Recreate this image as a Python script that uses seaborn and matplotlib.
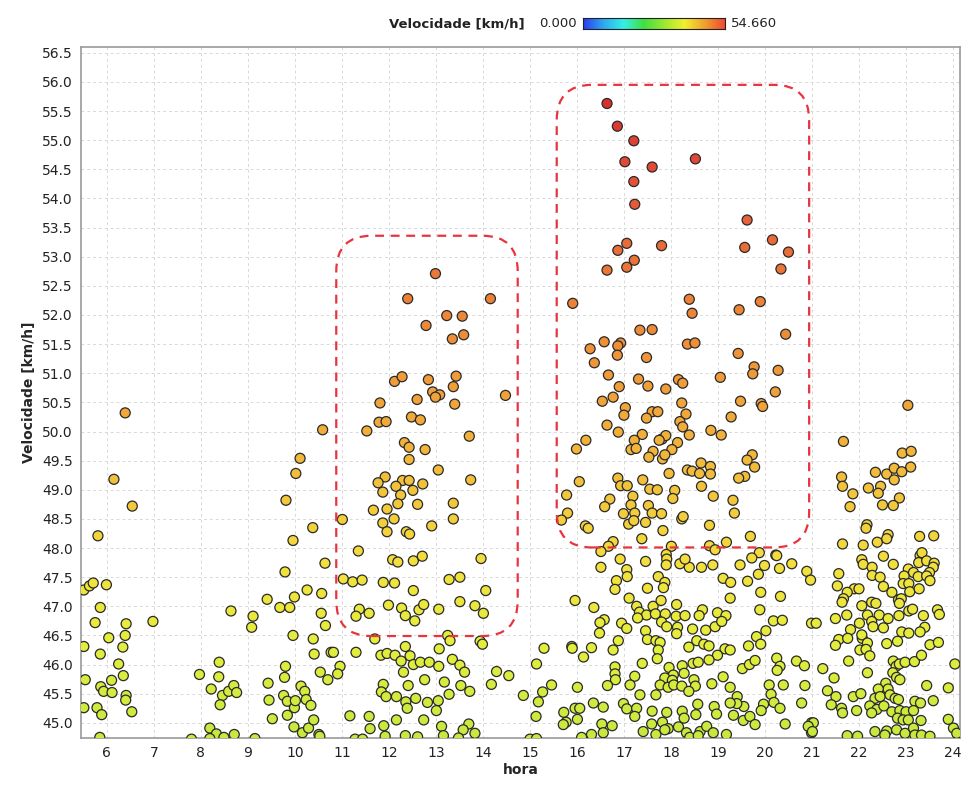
import matplotlib
matplotlib.use("Agg")
import matplotlib.pyplot as plt
import numpy as np
import pandas as pd
import seaborn as sns
from matplotlib.colors import LinearSegmentedColormap
from matplotlib.patches import FancyBboxPatch

# (hora, velocidade), por faixa de horario
madrugada = [
    (6.39, 50.32), (6.15, 49.18), (6.54, 48.72), (5.81, 48.21), (5.51, 47.28), (5.63, 47.35),
    (5.71, 47.40), (5.99, 47.37), (5.86, 46.98), (5.75, 46.72), (5.51, 46.31), (6.04, 46.46),
    (5.86, 46.18), (6.41, 46.70), (6.39, 46.50), (6.34, 46.30), (6.25, 46.01), (6.35, 45.81),
    (5.54, 45.74), (6.10, 45.73), (5.87, 45.62), (5.93, 45.54), (6.11, 45.52), (6.41, 45.47),
    (6.40, 45.39), (5.51, 45.26), (5.79, 45.26), (5.89, 45.14), (6.53, 45.19), (5.85, 44.75),
    (6.98, 46.74), (7.97, 45.83), (8.22, 45.58), (8.39, 46.04), (8.38, 45.79), (8.46, 45.47),
    (8.41, 45.31), (8.59, 45.54), (8.70, 45.64), (8.76, 45.52), (8.64, 46.92), (9.11, 46.83),
    (9.08, 46.64), (8.19, 44.91), (8.33, 44.81), (8.71, 44.80), (8.49, 44.75), (7.80, 44.72),
    (9.15, 44.73), (8.19, 44.73),
]

manha = [
    (9.43, 45.68), (9.45, 45.39), (9.52, 45.07), (9.41, 47.12), (9.68, 46.98), (9.89, 46.98),
    (9.79, 47.59), (9.99, 47.16), (9.81, 48.82), (10.02, 49.28), (10.11, 49.54), (9.96, 48.13),
    (10.38, 48.35), (10.59, 50.03), (9.96, 46.50), (9.80, 45.97), (9.78, 45.78), (9.76, 45.47),
    (9.84, 45.37), (9.84, 45.13), (9.99, 45.26), (10.01, 45.38), (9.98, 44.93), (10.13, 45.63),
    (10.21, 45.54), (10.24, 45.40), (10.34, 45.30), (10.16, 44.83), (10.29, 44.91), (10.40, 45.05),
    (10.51, 44.80), (10.39, 46.44), (10.41, 46.18), (10.26, 47.28), (10.57, 47.22), (10.56, 46.88),
    (10.65, 46.67), (10.64, 47.74), (10.54, 45.87), (10.70, 45.74), (10.77, 46.21), (10.53, 44.77),
]

almoco = [
    (12.99, 52.71), (12.40, 52.28), (14.16, 52.28), (13.23, 51.99), (13.56, 51.98), (12.79, 51.82),
    (13.35, 51.59), (13.59, 51.66), (12.12, 50.86), (12.28, 50.94), (12.84, 50.89), (13.43, 50.95),
    (13.37, 50.77), (12.93, 50.68), (13.08, 50.63), (12.99, 50.59), (14.48, 50.62), (12.60, 50.55),
    (11.81, 50.49), (13.40, 50.47), (12.48, 50.25), (12.67, 50.20), (11.79, 50.16), (11.94, 50.17),
    (11.53, 50.01), (13.71, 49.92), (12.33, 49.81), (12.43, 49.73), (12.77, 49.69), (12.43, 49.52),
    (13.05, 49.34), (13.74, 49.17), (11.92, 49.22), (11.77, 49.12), (12.29, 49.16), (12.43, 49.16),
    (12.72, 49.10), (12.15, 49.06), (12.51, 48.99), (11.87, 48.96), (12.25, 48.91), (11.67, 48.65),
    (11.96, 48.67), (12.19, 48.76), (12.61, 48.75), (13.37, 48.77), (11.01, 48.49), (12.11, 48.50),
    (11.87, 48.43), (11.96, 48.28), (12.37, 48.28), (12.44, 48.24), (12.91, 48.38), (13.37, 48.50),
    (11.35, 47.95), (12.08, 47.80), (12.19, 47.76), (12.52, 47.78), (12.71, 47.86), (13.96, 47.82),
    (11.03, 47.47), (11.23, 47.42), (11.43, 47.45), (11.88, 47.41), (12.12, 47.40), (13.28, 47.46),
    (13.51, 47.50), (12.52, 47.27), (14.06, 47.27), (11.99, 47.02), (11.37, 46.95), (11.30, 46.83),
    (11.58, 46.88), (12.27, 46.97), (12.35, 46.84), (12.55, 46.75), (12.64, 46.94), (12.74, 47.03),
    (13.06, 46.95), (13.51, 47.08), (13.83, 47.01), (14.01, 46.88), (11.70, 46.44), (13.25, 46.50),
    (13.30, 46.41), (13.94, 46.40), (13.99, 46.35), (10.82, 46.21), (11.30, 46.21), (11.83, 46.16),
    (11.96, 46.19), (12.13, 46.16), (12.26, 46.06), (12.35, 46.31), (12.45, 46.15), (12.52, 46.00),
    (12.67, 46.04), (12.86, 46.04), (13.07, 46.27), (13.06, 45.97), (13.35, 46.09), (13.51, 45.99),
    (13.61, 45.87), (10.96, 45.97), (10.91, 45.84), (12.31, 45.87), (12.76, 45.74), (11.88, 45.66),
    (12.41, 45.64), (13.18, 45.70), (13.53, 45.64), (13.72, 45.54), (14.29, 45.88), (14.55, 45.81),
    (14.18, 45.66), (11.84, 45.53), (11.94, 45.45), (12.16, 45.45), (12.36, 45.36), (12.57, 45.42),
    (12.39, 45.25), (12.82, 45.35), (13.05, 45.38), (13.28, 45.49), (13.01, 45.21), (11.17, 45.12),
    (11.58, 45.11), (11.60, 44.90), (11.89, 44.95), (12.16, 45.05), (12.74, 45.05), (13.12, 44.94),
    (13.70, 44.98), (13.58, 44.88), (13.83, 44.82), (13.48, 44.74), (11.92, 44.77), (12.35, 44.78),
    (12.61, 44.76), (13.16, 44.78), (11.28, 44.72), (11.44, 44.72), (14.86, 45.47), (15.18, 45.36),
    (15.27, 45.53), (15.14, 46.01), (15.30, 46.28), (15.13, 45.11), (15.00, 44.72), (15.14, 44.73),
]

tarde = [
    # acima de 51 km/h
    (16.64, 55.63), (16.86, 55.24), (17.21, 54.99), (17.02, 54.63), (17.60, 54.54), (18.52, 54.68),
    (17.21, 54.29), (17.23, 53.90), (19.62, 53.63), (17.06, 53.23), (16.87, 53.11), (17.80, 53.19),
    (19.57, 53.16), (20.16, 53.29), (20.50, 53.08), (17.22, 52.94), (17.06, 52.82), (16.64, 52.77),
    (20.34, 52.79), (15.91, 52.20), (18.39, 52.27), (18.45, 52.03), (19.45, 52.09), (19.90, 52.23),
    (17.34, 51.74), (17.60, 51.75), (20.44, 51.67), (16.58, 51.54), (16.93, 51.52), (16.87, 51.47),
    (16.28, 51.42), (18.35, 51.50), (18.51, 51.52), (16.86, 51.31), (16.37, 51.18), (17.48, 51.27),
    (19.43, 51.34), (19.77, 51.11), (19.74, 50.99), (20.28, 51.05), (16.67, 50.97), (17.31, 50.90),
    (18.16, 50.89), (19.05, 50.93),
    # 48 a 51 km/h
    (18.25, 50.83), (16.90, 50.77), (17.51, 50.78), (17.89, 50.73), (16.77, 50.59), (16.54, 50.52),
    (20.22, 50.68), (18.23, 50.49), (19.48, 50.52), (19.92, 50.48), (19.95, 50.43), (17.03, 50.41),
    (17.00, 50.28), (17.60, 50.34), (17.72, 50.34), (17.48, 50.23), (18.32, 50.30), (19.28, 50.25),
    (18.19, 50.17), (18.25, 50.08), (16.64, 50.11), (16.88, 49.99), (17.39, 49.95), (17.22, 49.85),
    (17.81, 49.87), (17.89, 49.93), (17.75, 49.85), (18.14, 49.81), (18.39, 49.94), (18.85, 50.02),
    (19.07, 49.94), (16.19, 49.85), (15.99, 49.70), (17.15, 49.69), (17.26, 49.71), (17.62, 49.66),
    (18.02, 49.69), (17.53, 49.56), (17.82, 49.53), (17.87, 49.60), (19.73, 49.60), (19.62, 49.51),
    (19.78, 49.39), (18.64, 49.46), (18.84, 49.40), (18.35, 49.34), (18.45, 49.32), (18.61, 49.28),
    (18.84, 49.27), (17.96, 49.28), (19.57, 49.23), (19.44, 49.20), (16.05, 49.14), (16.87, 49.20),
    (16.93, 49.07), (17.07, 49.07), (17.40, 49.17), (17.55, 49.01), (17.71, 49.00), (18.65, 49.06),
    (18.08, 48.99), (18.04, 48.85), (15.78, 48.91), (16.70, 48.84), (16.59, 48.71), (17.19, 48.89),
    (17.15, 48.74), (17.52, 48.73), (18.90, 48.89), (19.32, 48.82), (19.35, 48.60), (15.80, 48.60),
    (15.67, 48.48), (16.99, 48.59), (17.23, 48.60), (17.60, 48.60), (17.80, 48.59), (17.10, 48.41),
    (17.21, 48.47), (17.46, 48.44), (18.23, 48.50), (18.26, 48.54), (18.82, 48.39), (16.18, 48.38),
    (16.24, 48.34), (17.83, 48.30), (17.38, 48.16), (16.77, 48.11), (16.67, 48.03), (19.69, 48.20),
    (19.18, 48.10), (18.01, 48.03), (18.82, 48.04), (18.94, 47.97), (16.51, 47.94), (19.88, 47.92),
    (20.23, 47.88), (17.90, 47.89), (17.91, 47.81),
    # abaixo de 48 km/h
    (17.46, 47.77), (16.92, 47.81), (17.90, 47.71), (18.19, 47.73), (18.39, 47.67), (18.65, 47.67),
    (18.89, 47.71), (18.30, 47.81), (19.47, 47.71), (19.72, 47.83), (19.99, 47.70), (20.25, 47.87),
    (20.57, 47.73), (20.31, 47.65), (20.89, 47.60), (20.97, 47.45), (16.51, 47.67), (17.06, 47.63),
    (17.07, 47.51), (16.84, 47.44), (16.81, 47.29), (17.73, 47.51), (17.87, 47.41), (17.84, 47.32),
    (17.50, 47.31), (19.11, 47.48), (19.27, 47.41), (19.63, 47.43), (19.86, 47.55), (19.91, 47.24),
    (20.33, 47.17), (19.26, 47.14), (15.96, 47.10), (17.11, 47.14), (16.36, 46.98), (17.27, 47.00),
    (17.33, 46.90), (17.62, 47.00), (17.79, 47.10), (18.12, 47.03), (17.48, 46.85), (17.67, 46.87),
    (17.88, 46.87), (18.11, 46.83), (18.30, 46.84), (17.29, 46.80), (19.89, 46.94), (18.67, 46.94),
    (18.60, 46.84), (18.99, 46.89), (19.17, 46.84), (16.58, 46.77), (16.49, 46.72), (16.95, 46.71),
    (17.06, 46.62), (17.80, 46.73), (17.91, 46.65), (18.14, 46.64), (18.12, 46.53), (18.46, 46.61),
    (18.74, 46.59), (18.94, 46.65), (19.08, 46.74), (20.18, 46.75), (20.37, 46.76), (20.99, 46.71),
    (20.02, 46.58), (16.48, 46.54), (17.46, 46.58), (19.82, 46.48), (19.91, 46.35), (19.65, 46.32),
    (16.88, 46.41), (17.50, 46.43), (17.68, 46.41), (17.77, 46.38), (18.55, 46.41), (18.70, 46.35),
    (18.81, 46.32), (18.38, 46.30), (19.15, 46.27), (19.26, 46.25), (15.89, 46.31), (15.90, 46.28),
    (16.31, 46.29), (16.77, 46.25), (17.73, 46.25), (16.14, 46.13), (17.71, 46.10), (18.99, 46.16),
    (18.81, 46.08), (18.47, 46.02), (18.58, 46.04), (18.24, 45.98), (17.96, 45.95), (17.39, 46.02),
    (16.81, 45.96), (16.81, 45.84), (16.82, 45.74), (19.52, 45.93), (19.67, 46.00), (19.79, 46.07),
    (20.25, 46.11), (20.32, 45.97), (20.26, 45.90), (20.67, 46.06), (20.84, 45.98), (17.23, 45.80),
    (17.13, 45.65), (18.05, 45.82), (18.28, 45.85), (18.49, 45.74), (17.87, 45.77), (18.03, 45.73),
    (19.11, 45.79), (19.26, 45.61), (17.77, 45.65), (17.94, 45.61), (18.06, 45.65), (18.23, 45.63),
    (18.52, 45.63), (18.87, 45.67), (18.38, 45.54), (16.65, 45.64), (16.01, 45.61), (15.46, 45.65),
    (17.34, 45.48), (17.68, 45.48), (20.09, 45.65), (20.39, 45.65), (20.85, 45.64), (20.13, 45.49),
    (19.41, 45.45), (19.55, 45.28), (19.40, 45.33), (19.26, 45.34), (19.97, 45.32), (20.19, 45.35),
    (20.32, 45.25), (19.92, 45.21), (20.78, 45.34), (16.35, 45.34), (16.56, 45.27), (16.99, 45.33),
    (17.06, 45.24), (17.27, 45.25), (17.60, 45.20), (17.91, 45.18), (18.24, 45.20), (18.57, 45.32),
    (18.92, 45.28), (18.97, 45.15), (18.53, 45.14), (18.28, 45.08), (15.72, 45.18), (15.96, 45.25),
    (16.06, 45.25), (16.01, 45.06), (15.77, 45.01), (15.71, 44.97), (16.75, 44.95), (16.53, 44.98),
    (17.23, 45.11), (17.59, 44.98), (17.82, 45.01), (17.94, 44.90), (18.16, 44.93), (18.33, 44.83),
    (18.62, 44.85), (18.76, 44.94), (18.90, 44.83), (19.33, 45.13), (19.54, 45.04), (19.68, 45.11),
    (19.79, 44.97), (20.43, 44.98), (20.99, 45.00), (20.99, 44.83), (17.41, 44.85), (17.68, 44.80),
    (17.87, 44.88), (19.18, 44.80), (16.56, 44.83), (16.31, 44.80), (16.10, 44.75), (18.40, 44.75),
    (18.58, 44.78),
]

noite = [
    (23.04, 50.45), (21.67, 49.83), (22.92, 49.63), (23.11, 49.66), (23.10, 49.39), (21.63, 49.22),
    (21.65, 49.06), (22.35, 49.30), (22.59, 49.27), (22.75, 49.37), (22.91, 49.31), (22.75, 49.17),
    (22.20, 49.03), (22.46, 49.06), (22.41, 48.94), (21.87, 48.93), (22.86, 48.86), (21.81, 48.71),
    (22.50, 48.74), (22.73, 48.73), (22.17, 48.40), (22.15, 48.34), (23.29, 48.20), (23.59, 48.21),
    (21.65, 48.07), (22.09, 48.05), (22.39, 48.10), (22.62, 48.23), (22.59, 48.16), (22.52, 47.86),
    (23.30, 47.87), (23.34, 47.92), (23.27, 47.75), (23.44, 47.78), (23.60, 47.74), (23.58, 47.67),
    (22.06, 47.80), (22.09, 47.72), (22.28, 47.67), (22.73, 47.72), (23.05, 47.64), (23.16, 47.58),
    (23.50, 47.58), (21.57, 47.56), (22.28, 47.53), (22.45, 47.50), (22.96, 47.52), (23.26, 47.51),
    (23.44, 47.52), (23.51, 47.44), (21.54, 47.35), (21.90, 47.30), (22.00, 47.30), (22.52, 47.34),
    (22.70, 47.24), (22.94, 47.39), (23.06, 47.39), (23.08, 47.25), (23.28, 47.30), (21.75, 47.24),
    (21.67, 47.13), (21.64, 47.07), (22.84, 47.11), (22.90, 47.13), (22.06, 47.01), (22.27, 47.07),
    (22.36, 47.05), (22.86, 47.05), (23.06, 46.92), (23.14, 46.95), (23.67, 46.94), (23.71, 46.86),
    (21.50, 46.79), (21.74, 46.85), (22.18, 46.85), (22.43, 46.85), (22.62, 46.79), (22.85, 46.84),
    (21.09, 46.71), (23.37, 46.84), (22.01, 46.71), (22.27, 46.74), (22.30, 46.65), (23.40, 46.64),
    (22.52, 46.63), (22.91, 46.56), (23.06, 46.54), (23.30, 46.56), (21.82, 46.60), (21.57, 46.43),
    (21.50, 46.33), (21.76, 46.45), (22.07, 46.45), (22.06, 46.51), (22.18, 46.37), (22.59, 46.36),
    (22.82, 46.40), (23.51, 46.34), (23.69, 46.38), (22.02, 46.25), (22.15, 46.26), (22.23, 46.15),
    (21.78, 46.06), (22.18, 45.86), (22.73, 46.06), (22.79, 45.97), (22.86, 46.01), (22.98, 46.04),
    (23.18, 46.05), (23.33, 46.16), (24.04, 46.01), (21.23, 45.93), (21.47, 45.77), (22.72, 45.86),
    (22.80, 45.78), (22.87, 45.74), (22.57, 45.68), (22.62, 45.58), (22.41, 45.58), (23.44, 45.64),
    (23.90, 45.60), (21.33, 45.55), (21.51, 45.45), (21.88, 45.45), (22.04, 45.50), (22.34, 45.42),
    (22.45, 45.45), (22.66, 45.48), (22.77, 45.42), (22.84, 45.40), (23.19, 45.37), (23.31, 45.34),
    (23.58, 45.38), (21.41, 45.31), (21.63, 45.25), (21.95, 45.21), (22.23, 45.29), (22.38, 45.23),
    (22.53, 45.29), (22.70, 45.19), (22.87, 45.21), (23.00, 45.19), (23.16, 45.21), (22.27, 45.17),
    (21.65, 45.17), (22.82, 45.08), (22.94, 45.05), (23.05, 45.05), (23.32, 45.04), (23.90, 45.06),
    (24.01, 44.91), (21.03, 45.00), (20.92, 44.94), (21.01, 44.85), (21.75, 44.78), (21.97, 44.77),
    (22.34, 44.85), (22.59, 44.86), (22.55, 44.79), (22.80, 44.88), (22.98, 44.82), (23.16, 44.91),
    (23.19, 44.79), (23.33, 44.79), (23.51, 44.77), (24.08, 44.82),
]

# areas destacadas (hora inicial, hora final, vel. minima, vel. maxima)
destaque_almoco = (10.88, 14.74, 46.49, 53.36)
destaque_tarde = (15.57, 20.94, 48.01, 55.95)

df = pd.DataFrame(madrugada + manha + almoco + tarde + noite, columns=["hora", "velocidade"])

sns.set_style("white")
plt.rcParams["font.family"] = ["DejaVu Sans"]

fig = plt.figure(figsize=(9.61, 7.87), dpi=100)
ax = fig.add_axes([0.0843, 0.0623, 0.9147, 0.878])

cores_pontos = LinearSegmentedColormap.from_list("pontos", [
    (0.00, "#c6e83e"), (0.15, "#e4ee3c"), (0.27, "#f2e03c"), (0.42, "#f2bc3a"),
    (0.57, "#f09a38"), (0.72, "#ec7a36"), (0.86, "#e4553a"), (1.00, "#d8302c")])

sns.scatterplot(data=df, x="hora", y="velocidade", hue="velocidade", palette=cores_pontos,
                hue_norm=(44.7, 55.7), s=52, edgecolor="#2a2a2a", linewidth=0.9,
                legend=False, ax=ax, zorder=3)

# caixas tracejadas arredondadas
for h0, h1, v0, v1 in [destaque_almoco, destaque_tarde]:
    caixa = FancyBboxPatch((h0, v0), h1 - h0, v1 - v0,
                           boxstyle="round,pad=0,rounding_size=0.75", mutation_aspect=0.81,
                           fill=False, edgecolor="#e8343c", linewidth=1.6,
                           linestyle=(0, (4, 3)), zorder=4, clip_on=False)
    ax.add_patch(caixa)

ax.set_xlim(5.45, 24.15)
ax.set_ylim(44.74, 56.6)
ax.set_xticks(range(6, 25))
ax.set_yticks(np.arange(45.0, 56.51, 0.5))
ax.set_yticklabels([f"{v:.1f}" for v in np.arange(45.0, 56.51, 0.5)])
ax.grid(True, color="#d8d8d8", linestyle=(0, (3, 3)), linewidth=0.7)
ax.set_axisbelow(True)
for lado in ax.spines.values():
    lado.set_color("#9a9a9a")
    lado.set_linewidth(1.2)
ax.tick_params(axis="both", direction="out", length=3, width=0.8, color="#888888",
               labelsize=10, labelcolor="#222222", pad=3)
ax.set_xlabel("hora", fontsize=10, fontweight="bold", labelpad=2)
ax.set_ylabel("Velocidade [km/h]", fontsize=10, fontweight="bold", labelpad=4)

# barra de cores no topo
cores_barra = LinearSegmentedColormap.from_list(
    "barra", ["#2a3cf0", "#30a8f0", "#34f0e8", "#40e040", "#9ce830", "#f0f030", "#f0a030", "#f04a30"])
cax = fig.add_axes([583 / 961, 1 - 29 / 787, 142 / 961, 11 / 787])
cax.imshow(np.linspace(0, 1, 256)[None, :], aspect="auto", cmap=cores_barra)
cax.set_xticks([])
cax.set_yticks([])
for lado in cax.spines.values():
    lado.set_color("#222222")
    lado.set_linewidth(0.8)

y_barra = 1 - 23.5 / 787
fig.text(525 / 961, y_barra, "Velocidade [km/h]", ha="right", va="center", fontsize=9.5,
         fontweight="bold", color="#222222")
fig.text(577 / 961, y_barra, "0.000", ha="right", va="center", fontsize=9.5, color="#222222")
fig.text(731 / 961, y_barra, "54.660", ha="left", va="center", fontsize=9.5, color="#222222")

fig.savefig("out.png", dpi=100)
